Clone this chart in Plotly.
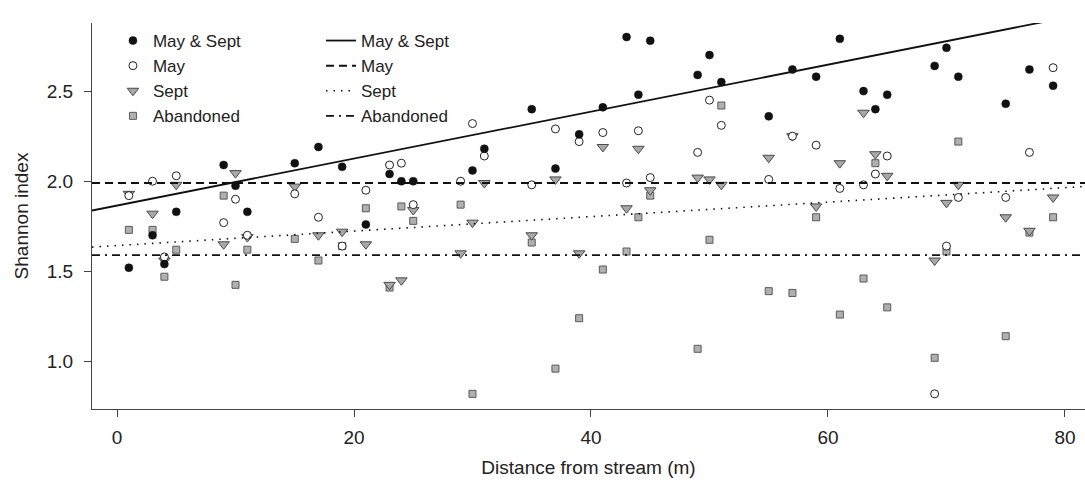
import plotly.graph_objects as go

# ---- data ----
distance = [1, 3, 4, 5, 9, 10, 11, 15, 17, 19, 21, 23, 24, 25, 29, 30, 31, 35, 37, 39,
            41, 43, 44, 45, 49, 50, 51, 55, 57, 59, 61, 63, 64, 65, 69, 70, 71, 75, 77, 79]

may_sept = [1.52, 1.70, 1.54, 1.83, 2.09, 1.975, 1.83, 2.10, 2.19, 2.08, 1.76, 2.04, 2.00, 2.00, None, 2.06, 2.18, 2.40, 2.07, 2.26,
            2.41, 2.80, 2.48, 2.78, 2.59, 2.70, 2.55, 2.36, 2.62, 2.58, 2.79, 2.50, 2.40, 2.48, 2.64, 2.74, 2.58, 2.43, 2.62, 2.53]

may = [1.92, 2.00, 1.58, 2.03, 1.77, 1.90, 1.70, 1.93, 1.80, 1.64, 1.95, 2.09, 2.10, 1.87, 2.00, 2.32, 2.14, 1.98, 2.29, 2.22,
       2.27, 1.99, 2.28, 2.02, 2.16, 2.45, 2.31, 2.01, 2.25, 2.20, 1.96, 1.98, 2.04, 2.14, 0.82, 1.64, 1.91, 1.91, 2.16, 2.63]

sept = [1.93, 1.82, 1.56, 1.98, 1.65, 2.045, 1.69, 1.97, 1.70, 1.72, 1.65, 1.425, 1.45, 1.84, 1.60, 1.77, 1.99, 1.70, 2.01, 1.60,
        2.19, 1.85, 2.18, 1.95, 2.02, 2.01, 1.98, 2.13, 2.25, 1.86, 2.10, 2.38, 2.15, 2.03, 1.56, 1.88, 1.98, 1.80, 1.725, 1.91]

abandoned = [1.73, 1.73, 1.47, 1.62, 1.92, 1.425, 1.62, 1.68, 1.56, 1.64, 1.85, 1.41, 1.86, 1.78, 1.87, 0.82, None, 1.66, 0.96, 1.24,
             1.51, 1.61, 1.80, 1.92, 1.07, 1.675, 2.42, 1.39, 1.38, 1.80, 1.26, 1.46, 2.10, 1.30, 1.02, 1.61, 2.22, 1.14, 1.715, 1.80]

series_names = ["May & Sept", "May", "Sept", "Abandoned"]
# fitted lines: intercept, slope
fit_intercept = [1.865, 1.99, 1.643, 1.59]
fit_slope = [0.01303, 0.0, 0.004015, 0.0]

x_ticks = [0, 20, 40, 60, 80]
y_ticks = [1.0, 1.5, 2.0, 2.5]
x_range = [-2.11, 81.69]
y_range = [0.736, 2.878]

# ---- styling ----
FONT = "Liberation Sans, Arial, Helvetica, sans-serif"
TXT = "#222222"
AX = "#444444"

fig = go.Figure()

point_styles = {
    "Abandoned": dict(symbol="square", size=7, color="#b0b0b0", line=dict(color="#5a5a5a", width=1)),
    "Sept": dict(symbol="triangle-down", size=10, color="#a8a8a8", line=dict(color="#4a4a4a", width=1)),
    "May": dict(symbol="circle", size=8, color="white", line=dict(color="#222222", width=1)),
    "May & Sept": dict(symbol="circle", size=8, color="#111111", line=dict(color="#111111", width=0.5)),
}
series_values = {"May & Sept": may_sept, "May": may, "Sept": sept, "Abandoned": abandoned}

# draw order: abandoned at back, filled circles on top
for name in ["Abandoned", "Sept", "May", "May & Sept"]:
    fig.add_trace(go.Scatter(
        x=distance, y=series_values[name], mode="markers", name=name,
        marker=point_styles[name], legend="legend",
        legendrank=series_names.index(name) + 1, hoverinfo="x+y+name",
    ))

line_dash = ["solid", "8px,5px", "1.5px,6px", "8px,5px,2px,5px"]
line_width = [1.8, 2.0, 1.6, 1.8]
for i, name in enumerate(series_names):
    xs = [x_range[0], x_range[1]]
    ys = [fit_intercept[i] + fit_slope[i] * xv for xv in xs]
    fig.add_trace(go.Scatter(
        x=xs, y=ys, mode="lines", name=name, legend="legend2",
        line=dict(color="#111111", width=line_width[i], dash=line_dash[i]),
        legendrank=i + 1, hoverinfo="skip",
    ))

axis_common = dict(
    showgrid=False, zeroline=False, showline=True, linecolor=AX, linewidth=1,
    ticks="outside", ticklen=7, tickwidth=1, tickcolor=AX, automargin=False,
    tickfont=dict(family=FONT, size=19, color=TXT), mirror=False,
)

fig.update_layout(
    width=1085, height=484,
    margin=dict(l=92, r=0, t=23, b=75),
    paper_bgcolor="white", plot_bgcolor="white",
    font=dict(family=FONT, size=19, color=TXT),
    xaxis=dict(range=x_range, tickvals=x_ticks, ticktext=[str(v) for v in x_ticks], ticklabelstandoff=4,
               title=dict(text="Distance from stream (m)", font=dict(family=FONT, size=19, color=TXT), standoff=13),
               **axis_common),
    yaxis=dict(range=y_range, tickvals=y_ticks, ticktext=[f"{v:.1f}" for v in y_ticks], ticklabelstandoff=7,
               title=dict(text="Shannon index", font=dict(family=FONT, size=19, color=TXT), standoff=13),
               **axis_common),
    legend=dict(x=0.0211, y=1.0, xanchor="left", yanchor="top", bgcolor="rgba(0,0,0,0)",
                font=dict(family=FONT, size=17, color=TXT), traceorder="normal", itemclick=False),
    legend2=dict(x=0.2306, y=1.0, xanchor="left", yanchor="top", bgcolor="rgba(0,0,0,0)",
                 font=dict(family=FONT, size=17, color=TXT), traceorder="normal", itemclick=False),
    showlegend=True,
)

fig.write_html("out.html", config={"displayModeBar": False},
               post_script="document.body.style.margin='0px';document.body.style.overflow='hidden';")
